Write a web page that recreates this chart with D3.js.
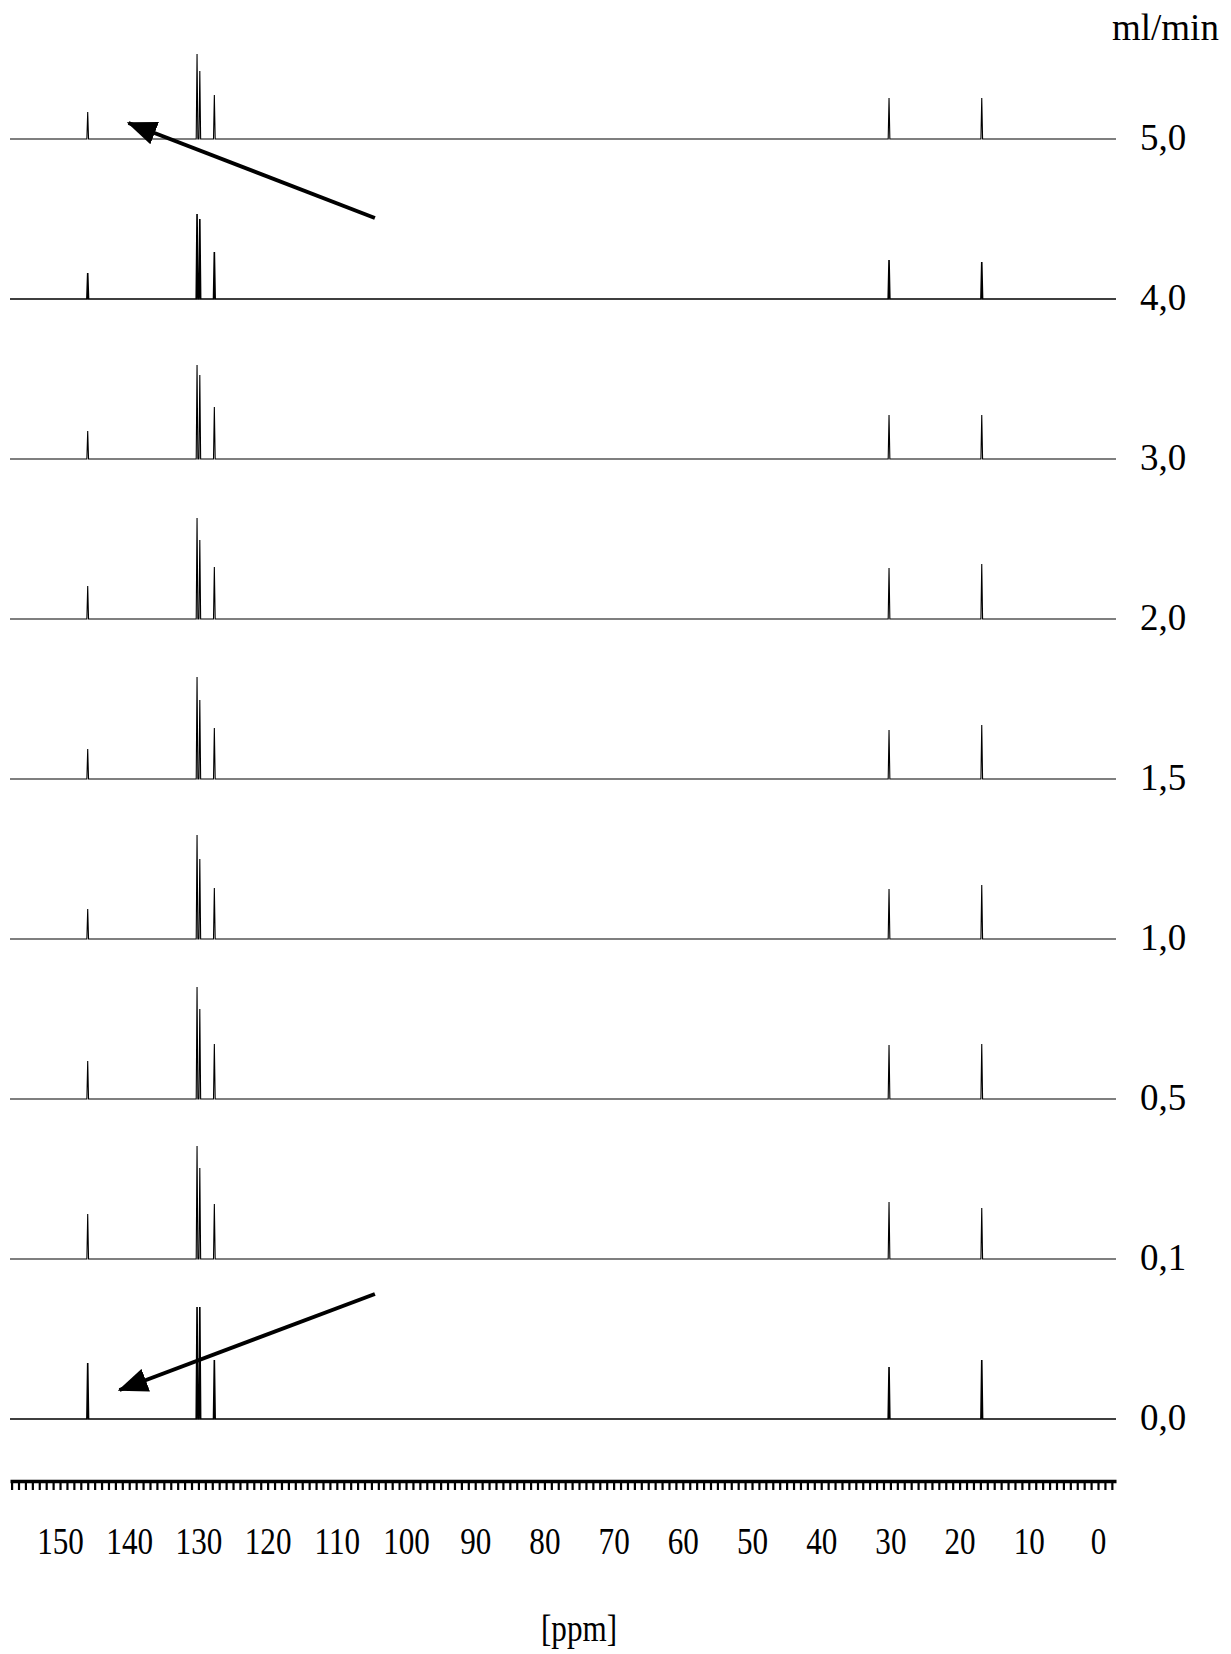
<!DOCTYPE html>
<html>
<head>
<meta charset="utf-8">
<script src="https://cdn.jsdelivr.net/npm/d3@7"></script>
<style>
  body { margin: 0; background: #fff; }
  svg text { font-family: "Liberation Serif", "Times New Roman", serif; fill: #000; }
</style>
</head>
<body>
<div id="chart"></div>
<script>
// flow rates (ml/min), top to bottom
const flowRates = ["5,0", "4,0", "3,0", "2,0", "1,5", "1,0", "0,5", "0,1", "0,0"];
// peak positions (ppm)
const peakPpm = [146.0, 130.2, 129.8, 127.7, 30.2, 16.8];
// peak heights (a.u.) per flow rate, same order as peakPpm
const peakHeights = [
  [27, 85, 68, 44, 41, 41],
  [26, 85, 80, 47, 39, 37],
  [28, 94, 84, 52, 44, 44],
  [33, 101, 79, 52, 51, 55],
  [30, 102, 79, 51, 49, 54],
  [30, 104, 80, 51, 50, 54],
  [38, 112, 90, 55, 54, 55],
  [45, 113, 91, 55, 57, 51],
  [56, 112, 112, 59, 52, 59]
];
const tickLabels = [150, 140, 130, 120, 110, 100, 90, 80, 70, 60, 50, 40, 30, 20, 10, 0];

const width = 1231, height = 1654;

const svg = d3.select("#chart").append("svg")
  .attr("width", width)
  .attr("height", height);

// ppm axis runs right to left
const x = d3.scaleLinear()
  .domain([157.23, -2.6])
  .range([10, 1116]);

const row = d3.scalePoint()
  .domain(flowRates)
  .range([139, 1419]);

const inten = d3.scaleLinear()
  .domain([0, 100])
  .range([0, 100]);

// build a stick-like spectrum from the peak list
function spectrum(heights) {
  const pts = [[x.domain()[0], 0], [x.domain()[1], 0]];
  peakPpm.forEach((p, i) => {
    pts.push([p + 0.12, 0]);
    pts.push([p, heights[i]]);
    pts.push([p - 0.12, 0]);
  });
  pts.sort((a, b) => b[0] - a[0]);
  return pts;
}

flowRates.forEach((f, i) => {
  const base = row(f);
  const line = d3.line()
    .x(d => x(d[0]))
    .y(d => base - inten(d[1]));

  svg.append("path")
    .datum(spectrum(peakHeights[i]))
    .attr("d", line)
    .attr("fill", "none")
    .attr("stroke", "#000")
    .attr("stroke-width", (f === "4,0" || f === "0,0") ? 1.6 : 1.1);

  svg.append("text")
    .attr("x", 1140)
    .attr("y", base + 11)
    .style("font-size", "37px")
    .text(f);
});

svg.append("text")
  .attr("x", 1112)
  .attr("y", 40)
  .style("font-size", "37px")
  .text("ml/min");

// ruler with 1 ppm ticks
const ruler = svg.append("g")
  .attr("transform", "translate(0,1481)")
  .call(d3.axisBottom(x)
    .tickValues(d3.range(-2, 158, 1))
    .tickSize(9)
    .tickSizeOuter(0)
    .tickFormat(""));
ruler.select(".domain").attr("stroke-width", 3.5);
ruler.selectAll(".tick line").attr("stroke-width", 2.2);

// labels
const labels = svg.append("g")
  .attr("transform", "translate(0,1524)")
  .call(d3.axisBottom(x)
    .tickValues(tickLabels)
    .tickSize(0)
    .tickFormat(d => d));
labels.select(".domain").remove();
labels.selectAll("text")
  .attr("transform", "scale(0.82,1)")
  .style("font-size", "38px")
  .style("font-family", "'Liberation Serif', 'Times New Roman', serif");

svg.append("text")
  .attr("x", x(75))
  .attr("y", 1641)
  .attr("text-anchor", "middle")
  .attr("transform", `translate(${x(75) * 0.18},0) scale(0.82,1)`)
  .style("font-size", "38px")
  .text("[ppm]");

// arrows
const defs = svg.append("defs");
defs.append("marker")
  .attr("id", "head")
  .attr("viewBox", "0 0 30 24")
  .attr("refX", 28)
  .attr("refY", 12)
  .attr("markerWidth", 30)
  .attr("markerHeight", 24)
  .attr("markerUnits", "userSpaceOnUse")
  .attr("orient", "auto")
  .append("path")
  .attr("d", "M0,0 L30,12 L0,24 Z")
  .attr("fill", "#000");

const arrows = [
  { from: [104.5, row("5,0") + 79], to: [140.1, row("5,0") - 16] },
  { from: [104.5, row("0,0") - 125], to: [141.4, row("0,0") - 29] }
];
arrows.forEach(a => {
  svg.append("line")
    .attr("x1", x(a.from[0]))
    .attr("y1", a.from[1])
    .attr("x2", x(a.to[0]))
    .attr("y2", a.to[1])
    .attr("stroke", "#000")
    .attr("stroke-width", 4)
    .attr("marker-end", "url(#head)");
});
</script>
</body>
</html>
